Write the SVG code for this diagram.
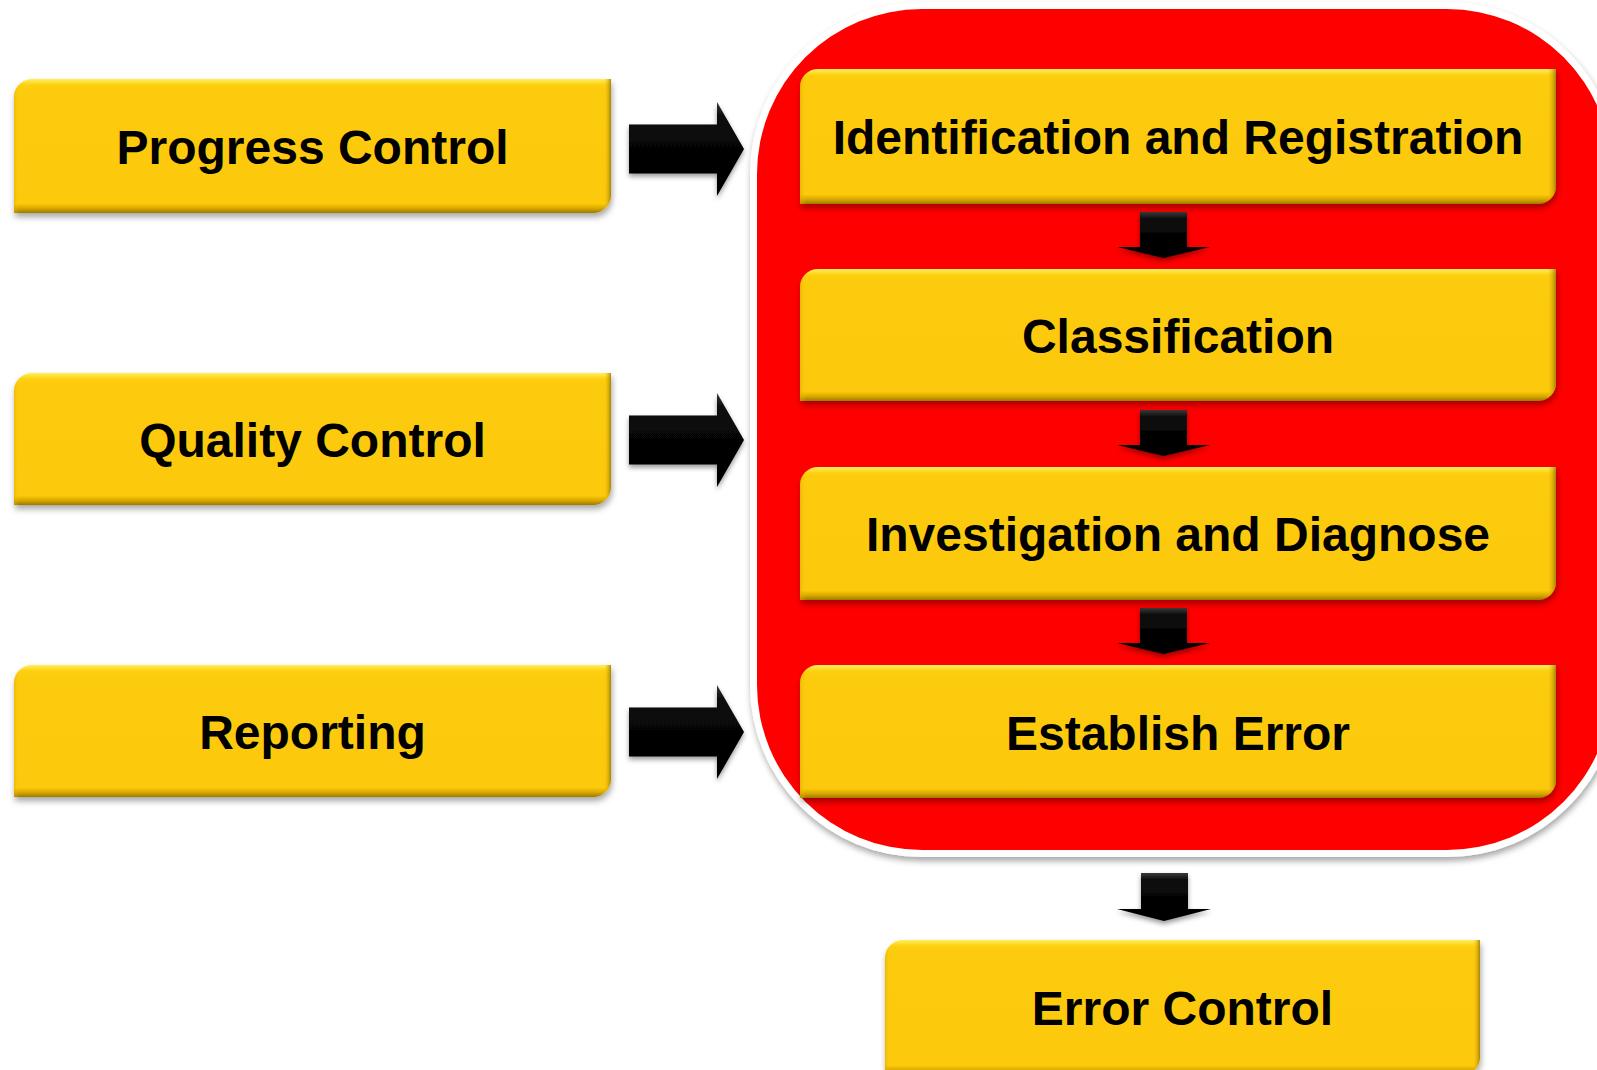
<svg xmlns="http://www.w3.org/2000/svg" width="1597" height="1070" viewBox="0 0 1597 1070">
<style>
.lbl{font-family:"Liberation Sans",Arial,sans-serif;font-weight:bold;font-size:48px;fill:#000;text-anchor:middle}
.box{fill:url(#yv);filter:url(#sh)}
.boxr{fill:url(#yh)}
.arr{fill:url(#ag);filter:url(#sh2)}
</style>
<defs>
<linearGradient id="yv" x1="0" y1="0" x2="0" y2="1">
<stop offset="0" stop-color="#FFF05A"/>
<stop offset="0.045" stop-color="#FDD012"/>
<stop offset="0.08" stop-color="#FDCB0A"/>
<stop offset="0.93" stop-color="#FCC908"/>
<stop offset="0.965" stop-color="#D9A800"/>
<stop offset="1" stop-color="#9C7A00"/>
</linearGradient>
<linearGradient id="yh" x1="0" y1="0" x2="1" y2="0">
<stop offset="0" stop-color="#E0A800" stop-opacity="0.5"/>
<stop offset="0.008" stop-color="#FDCB0A" stop-opacity="0"/>
<stop offset="0.988" stop-color="#FDCB0A" stop-opacity="0"/>
<stop offset="1" stop-color="#8A6A00" stop-opacity="0.75"/>
</linearGradient>
<linearGradient id="ag" x1="0" y1="0" x2="0" y2="1">
<stop offset="0" stop-color="#3a3a3a"/>
<stop offset="0.15" stop-color="#0a0a0a"/>
<stop offset="1" stop-color="#000"/>
</linearGradient>
<filter id="sh" x="-5%" y="-10%" width="110%" height="130%">
<feDropShadow dx="1" dy="4" stdDeviation="3" flood-color="#000" flood-opacity="0.35"/>
</filter>
<filter id="sh2" x="-20%" y="-20%" width="140%" height="150%">
<feDropShadow dx="0" dy="3" stdDeviation="2.5" flood-color="#000" flood-opacity="0.4"/>
</filter>
<filter id="sh3" x="-5%" y="-5%" width="110%" height="110%">
<feDropShadow dx="1" dy="4" stdDeviation="3" flood-color="#000" flood-opacity="0.35"/>
</filter>
</defs>

<g id="container">
<rect x="750" y="2" width="869" height="855" rx="172" fill="#fff" filter="url(#sh3)"/>
<rect x="757" y="9" width="855" height="841" rx="165" fill="#FF0000"/>
</g>

<g id="connectors">
<polygon class="arr" points="629,124.5 717,124.5 717,102 744,149 717,196 717,173.5 629,173.5"/>
<polygon class="arr" points="629,415.5 717,415.5 717,393 744,440 717,487 717,464.5 629,464.5"/>
<polygon class="arr" points="629,707.5 717,707.5 717,685 744,732 717,779 717,756.5 629,756.5"/>
<polygon class="arr" points="1140,212 1187,212 1187,247 1210,247 1163.5,258 1117,247 1140,247"/>
<polygon class="arr" points="1140,410 1187,410 1187,445 1210,445 1163.5,456 1117,445 1140,445"/>
<polygon class="arr" points="1140,608 1187,608 1187,643 1210,643 1163.5,654 1117,643 1140,643"/>
<polygon class="arr" points="1141,873 1188,873 1188,909 1211,909 1164,921 1117,909 1141,909"/>
</g>

<g id="progress-control">
<path class="box" d="M32,79 H611 V195 A18,18 0 0 1 593,213 H14 V97 A18,18 0 0 1 32,79 Z"/>
<path class="boxr" d="M32,79 H611 V195 A18,18 0 0 1 593,213 H14 V97 A18,18 0 0 1 32,79 Z"/>
<text class="lbl" x="312.5" y="164">Progress Control</text>
</g>
<g id="quality-control">
<path class="box" d="M32,373 H611 V487 A18,18 0 0 1 593,505 H14 V391 A18,18 0 0 1 32,373 Z"/>
<path class="boxr" d="M32,373 H611 V487 A18,18 0 0 1 593,505 H14 V391 A18,18 0 0 1 32,373 Z"/>
<text class="lbl" x="312.5" y="457">Quality Control</text>
</g>
<g id="reporting">
<path class="box" d="M32,665 H611 V779 A18,18 0 0 1 593,797 H14 V683 A18,18 0 0 1 32,665 Z"/>
<path class="boxr" d="M32,665 H611 V779 A18,18 0 0 1 593,797 H14 V683 A18,18 0 0 1 32,665 Z"/>
<text class="lbl" x="312.5" y="749">Reporting</text>
</g>

<g id="identification-registration">
<path class="box" d="M818,69 H1556 V186 A18,18 0 0 1 1538,204 H800 V87 A18,18 0 0 1 818,69 Z"/>
<path class="boxr" d="M818,69 H1556 V186 A18,18 0 0 1 1538,204 H800 V87 A18,18 0 0 1 818,69 Z"/>
<text class="lbl" x="1178" y="154">Identification and Registration</text>
</g>
<g id="classification">
<path class="box" d="M818,269 H1556 V383 A18,18 0 0 1 1538,401 H800 V287 A18,18 0 0 1 818,269 Z"/>
<path class="boxr" d="M818,269 H1556 V383 A18,18 0 0 1 1538,401 H800 V287 A18,18 0 0 1 818,269 Z"/>
<text class="lbl" x="1178" y="353">Classification</text>
</g>
<g id="investigation-diagnose">
<path class="box" d="M818,467 H1556 V582 A18,18 0 0 1 1538,600 H800 V485 A18,18 0 0 1 818,467 Z"/>
<path class="boxr" d="M818,467 H1556 V582 A18,18 0 0 1 1538,600 H800 V485 A18,18 0 0 1 818,467 Z"/>
<text class="lbl" x="1178" y="551">Investigation and Diagnose</text>
</g>
<g id="establish-error">
<path class="box" d="M818,665 H1556 V780 A18,18 0 0 1 1538,798 H800 V683 A18,18 0 0 1 818,665 Z"/>
<path class="boxr" d="M818,665 H1556 V780 A18,18 0 0 1 1538,798 H800 V683 A18,18 0 0 1 818,665 Z"/>
<text class="lbl" x="1178" y="750">Establish Error</text>
</g>
<g id="error-control">
<path class="box" d="M903,940 H1480 V1057 A18,18 0 0 1 1462,1075 H885 V958 A18,18 0 0 1 903,940 Z"/>
<path class="boxr" d="M903,940 H1480 V1057 A18,18 0 0 1 1462,1075 H885 V958 A18,18 0 0 1 903,940 Z"/>
<text class="lbl" x="1182.5" y="1025">Error Control</text>
</g>
</svg>
